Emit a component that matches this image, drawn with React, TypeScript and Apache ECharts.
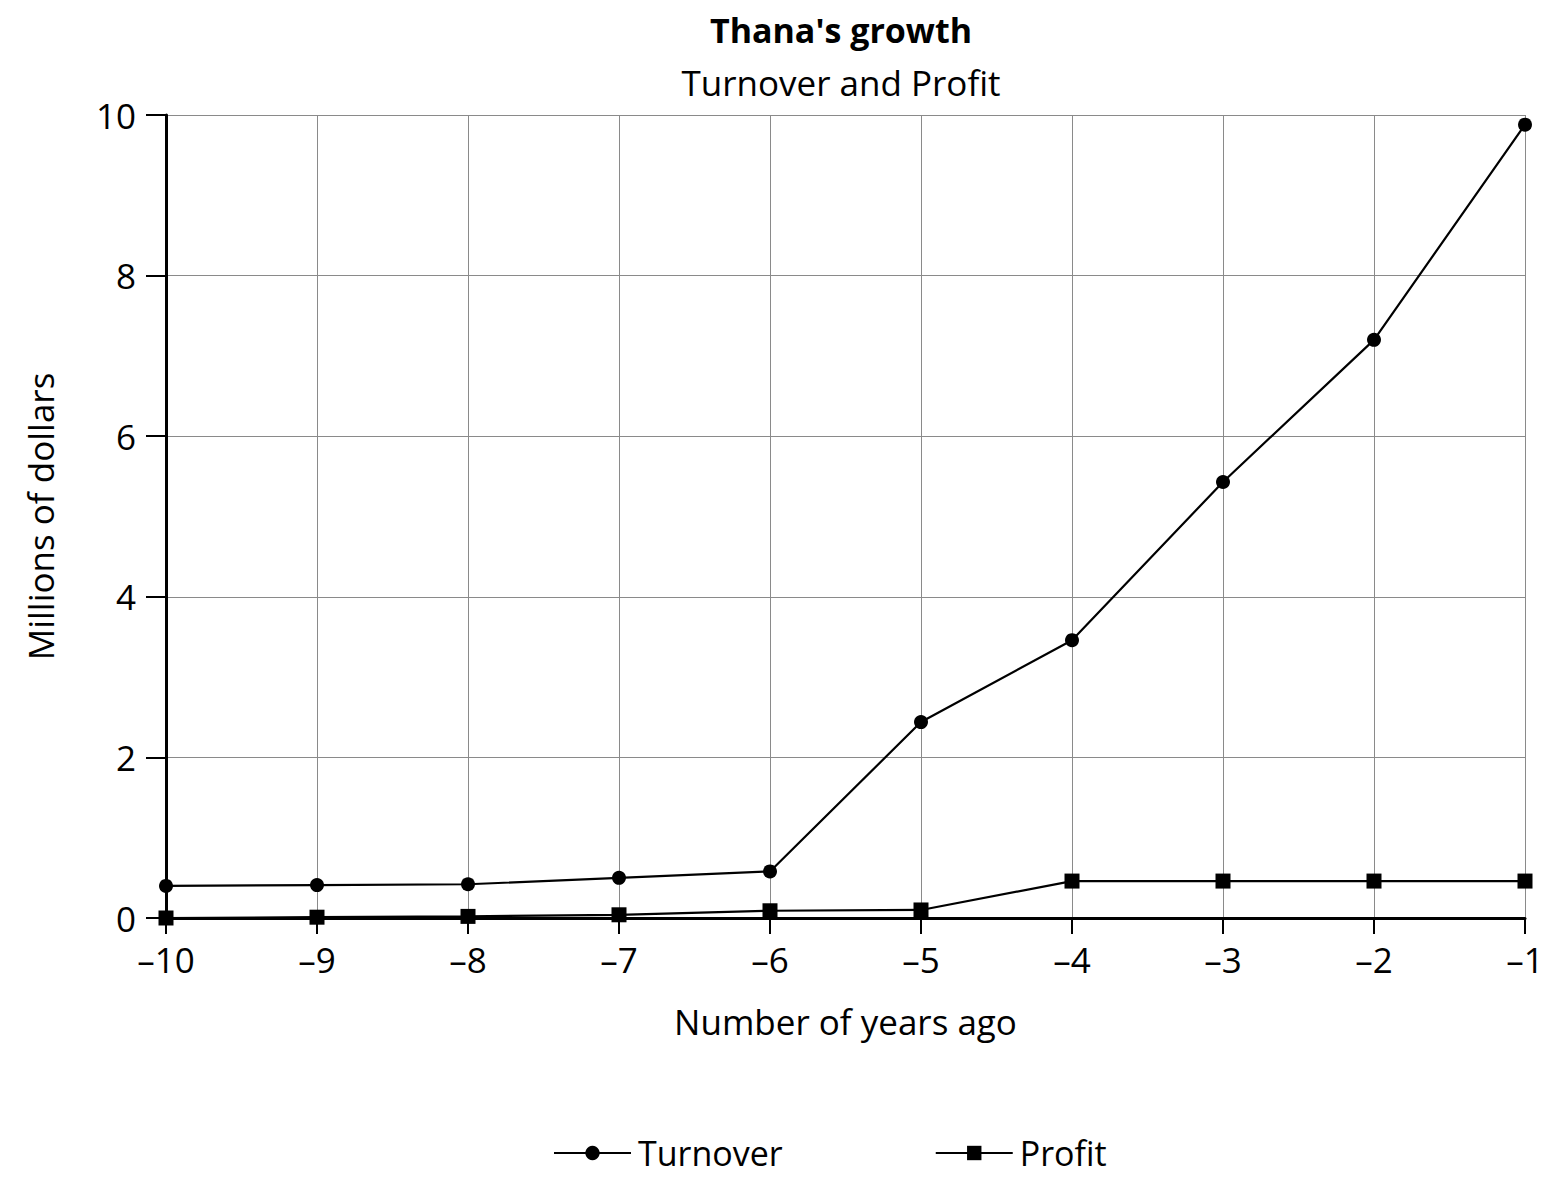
import React, { useEffect, useRef } from "react";
import * as echarts from "echarts";

const years = [-10, -9, -8, -7, -6, -5, -4, -3, -2, -1];
const turnover = [0.4, 0.41, 0.42, 0.5, 0.58, 2.44, 3.46, 5.43, 7.2, 9.88];
const profit = [0.0, 0.01, 0.02, 0.04, 0.09, 0.1, 0.46, 0.46, 0.46, 0.46];
const yTicks = [0, 2, 4, 6, 8, 10];

const FONT = "'Open Sans', 'Noto Sans', sans-serif";
const FS = 35;

export default function App() {
  const ref = useRef<HTMLDivElement>(null);
  useEffect(() => {
    if (!ref.current) return;
    const chart = echarts.init(ref.current, undefined, { renderer: "svg" });
    chart.setOption({
      animation: false,
      backgroundColor: "#ffffff",
      textStyle: { fontFamily: FONT, color: "#000" },
      title: [
        {
          text: "Thana's growth",
          left: 836,
          top: 8,
          textAlign: "center",
          textStyle: { fontFamily: FONT, fontSize: 34, fontWeight: "bold", color: "#000" },
        },
        {
          text: "Turnover and Profit",
          left: 836,
          top: 60,
          textAlign: "center",
          textStyle: { fontFamily: FONT, fontSize: FS, fontWeight: "normal", color: "#000" },
        },
      ],
      legend: {
        left: 548,
        top: 1131,
        itemWidth: 77,
        itemHeight: 18,
        itemGap: 152,
        textStyle: { fontFamily: FONT, fontSize: 34, color: "#000", padding: [0, 0, 0, 2] },
        data: [{ name: "Turnover" }, { name: "Profit" }],
      },
      grid: { left: 166, right: 33, top: 115, bottom: 270, containLabel: false },
      xAxis: {
        type: "value",
        min: -10,
        max: -1,
        interval: 1,
        name: "Number of years ago",
        nameLocation: "middle",
        nameGap: 86,
        nameTextStyle: { fontFamily: FONT, fontSize: FS, color: "#000" },
        axisLine: { show: true, onZero: false, lineStyle: { color: "#000", width: 3 } },
        axisTick: { show: true, length: 16, inside: false, lineStyle: { color: "#000", width: 2 } },
        axisLabel: {
          fontFamily: FONT,
          fontSize: FS,
          color: "#000",
          margin: 24,
          formatter: (v: number) => String(v).replace("-", "\u2013"),
        },
        splitLine: { show: true, lineStyle: { color: "#8a8a8a", width: 1 } },
      },
      yAxis: {
        type: "value",
        min: yTicks[0],
        max: yTicks[yTicks.length - 1],
        interval: 2,
        name: "Millions of dollars",
        nameLocation: "middle",
        nameGap: 108,
        nameTextStyle: { fontFamily: FONT, fontSize: FS, color: "#000" },
        axisLine: { show: true, lineStyle: { color: "#000", width: 3 } },
        axisTick: { show: true, length: 20, lineStyle: { color: "#000", width: 2 } },
        axisLabel: { fontFamily: FONT, fontSize: FS, color: "#000", margin: 30 },
        splitLine: { show: true, lineStyle: { color: "#8a8a8a", width: 1 } },
      },
      series: [
        {
          name: "Turnover",
          type: "line",
          data: years.map((x, i) => [x, turnover[i]]),
          symbol: "circle",
          symbolSize: 14,
          lineStyle: { color: "#000", width: 2.2 },
          itemStyle: { color: "#000" },
          z: 3,
        },
        {
          name: "Profit",
          type: "line",
          data: years.map((x, i) => [x, profit[i]]),
          symbol: "rect",
          symbolSize: 15,
          lineStyle: { color: "#000", width: 2.2 },
          itemStyle: { color: "#000" },
          z: 3,
        },
      ],
    });
    return () => chart.dispose();
  }, []);
  return <div ref={ref} style={{ width: 1558, height: 1188, margin: -8 }} />;
}
